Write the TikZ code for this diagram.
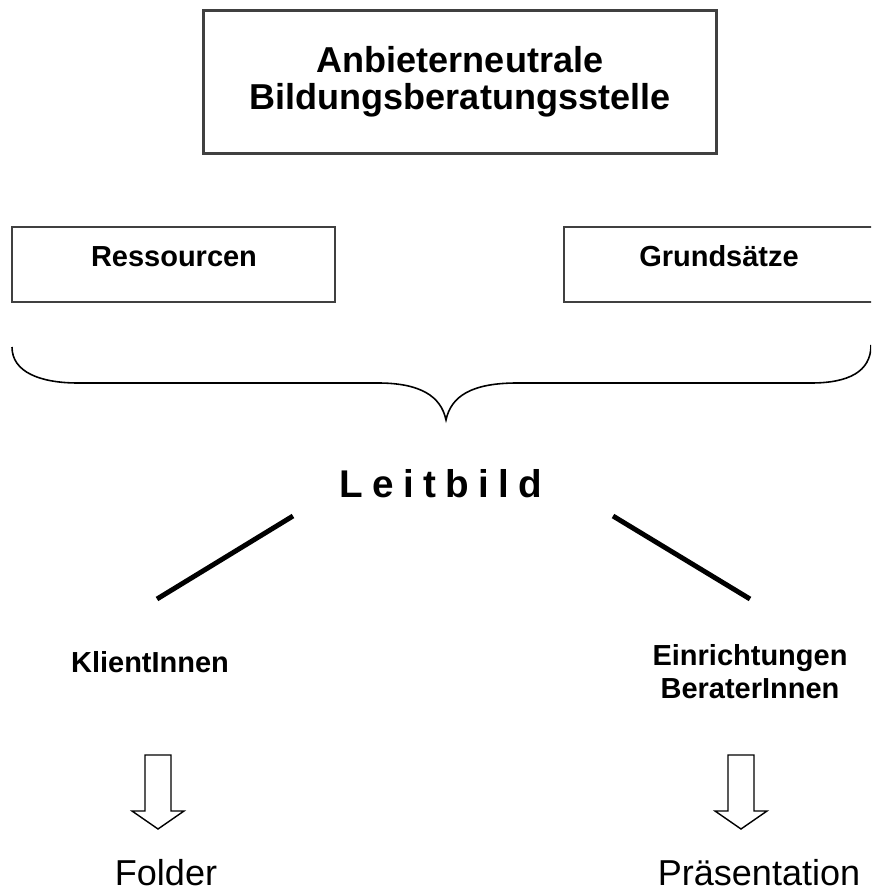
\documentclass[tikz,border=0pt]{standalone}
\usepackage{fontspec}
\setmainfont{Liberation Sans}
\newfontfamily\spacedfont{Liberation Sans}[LetterSpace=24]
\usepackage{tikz}

\tikzset{
  titlebox/.style={draw=black!75, line width=1.7pt, align=center,
    minimum width=10.28cm, minimum height=2.88cm, inner sep=0pt,
    font=\bfseries\fontsize{20.5}{20.8}\selectfont},
  smallbox/.style={draw=black!75, line width=1.1pt, minimum height=1.5cm, inner sep=0pt},
  boxtext/.style={font=\bfseries\fontsize{16.5}{18.8}\selectfont, inner sep=0pt},
  pictext/.style={font=\fontsize{20.5}{24}\selectfont, inner sep=0pt},
  stroke/.style={line width=2.8pt},
  hollowdown/.pic={
    \draw[line width=0.8pt, line join=miter]
      (-13,0) -- (13,0) -- (13,56) -- (26,56) -- (0,74) -- (-26,56) -- (-13,56) -- cycle;
  }
}

\begin{document}
\begin{tikzpicture}[x=0.02cm, y=-0.02cm]
  \clip (0,0) rectangle (871,891);

  % ---- top: the office ----
  \node[titlebox] (office) at (460,82)
    {Anbieterneutrale\\Bildungsberatungsstelle};

  % ---- two boxes and the brace ----
  \node[smallbox, minimum width=6.46cm] (resbox) at (173.5,264.5) {};
  \node[boxtext, anchor=base] (res) at (174,267) {Ressourcen};
  \node[smallbox, minimum width=6.22cm] (grdbox) at (719.5,264.5) {};
  \node[boxtext, anchor=base] (grd) at (719,267) {Grundsätze};

  \draw[line width=0.9pt] (12,347) .. controls (12,372) and (40,383) .. (78,383)
    -- (378,383) .. controls (420,383) and (441,396) .. (446,420)
    .. controls (451,396) and (472,383) .. (517,383)
    -- (811,383) .. controls (848,383) and (871,372) .. (871,345);

  % ---- Leitbild and its two branches ----
  \node[anchor=base, inner sep=0pt, font=\spacedfont\bfseries\fontsize{22}{26}\selectfont]
    (leit) at (441,497) {Leitbild};
  \coordinate (leitL) at (293,516);
  \coordinate (leitR) at (613,516);
  \coordinate (klientTop) at (157,599);
  \coordinate (beraterTop) at (750,599);
  \draw[stroke] (leitL) -- (klientTop);
  \draw[stroke] (leitR) -- (beraterTop);

  \node[boxtext, anchor=base] (klient) at (150,672) {KlientInnen};
  \node[boxtext, align=center] (berater) at (750,672) {Einrichtungen\\BeraterInnen};

  % ---- hollow arrows and what comes out ----
  \pic at (158,755) {hollowdown};
  \pic at (741,755) {hollowdown};
  \node[pictext, anchor=base] (folder) at (166,885) {Folder};
  \node[pictext, anchor=base] (praes) at (759,885) {Präsentation};
\end{tikzpicture}
\end{document}
